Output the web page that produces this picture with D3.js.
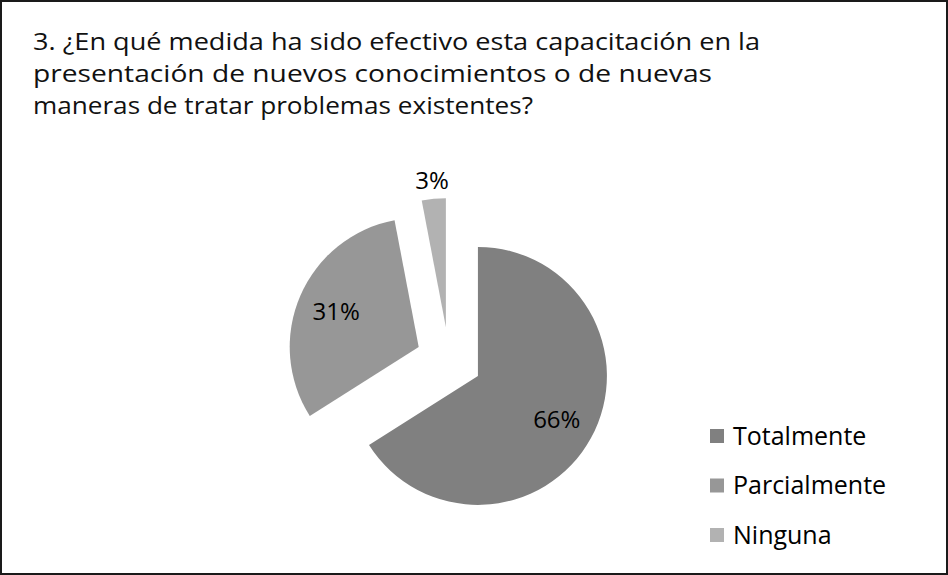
<!DOCTYPE html>
<html>
<head>
<meta charset="utf-8">
<script src="https://cdn.jsdelivr.net/npm/d3@7"></script>
<style>
  body { margin: 0; background: #fff; }
  svg text { font-family: "Open Sans", "Noto Sans", sans-serif; }
</style>
</head>
<body>
<svg id="chart" width="948" height="575"></svg>
<script>
const titleLines = [
    "3. ¿En qué medida ha sido efectivo esta capacitación en la",
    "presentación de nuevos conocimientos o de nuevas",
    "maneras de tratar problemas existentes?"
];
const titleWidths = [727, 679, 500];
const categories = ["Totalmente", "Parcialmente", "Ninguna"];
const values = [66, 31, 3];
const colors = ["#808080", "#979797", "#b2b2b2"];

const svg = d3.select("#chart");
const width = 948, height = 575;

svg.append("rect")
    .attr("x", 1).attr("y", 1)
    .attr("width", width - 2).attr("height", height - 2)
    .attr("fill", "#fff")
    .attr("stroke", "#1a1a1a")
    .attr("stroke-width", 2);

// title, squeezed to the condensed look of the original
svg.selectAll("text.title")
    .data(titleLines)
    .enter()
    .append("text")
    .attr("class", "title")
    .attr("x", 33)
    .attr("y", (d, i) => 50 + i * 32)
    .attr("font-size", "23px")
    .attr("fill", "#111")
    .attr("textLength", (d, i) => titleWidths[i])
    .attr("lengthAdjust", "spacingAndGlyphs")
    .text(d => d);

const cx = 449, cy = 360, radius = 129, explode = 33;

const data = categories.map((c, i) => ({ name: c, value: values[i], color: colors[i] }));

const pie = d3.pie().value(d => d.value).sort(null);
const arc = d3.arc().innerRadius(0).outerRadius(radius);
const arcs = pie(data);

const offset = d => {
    const a = (d.startAngle + d.endAngle) / 2;
    return [Math.sin(a) * explode, -Math.cos(a) * explode];
};

const g = svg.append("g").attr("transform", `translate(${cx},${cy})`);

const slice = g.selectAll("g.slice")
    .data(arcs)
    .enter()
    .append("g")
    .attr("class", "slice")
    .attr("transform", d => `translate(${offset(d)})`);

slice.append("path")
    .attr("d", arc)
    .attr("fill", d => d.data.color);

// small slices get their label outside
slice.append("text")
    .attr("transform", d => {
        const a = (d.startAngle + d.endAngle) / 2;
        const r = d.data.value < 5 ? radius + 18 : 90;
        return `translate(${Math.sin(a) * r},${-Math.cos(a) * r})`;
    })
    .attr("text-anchor", "middle")
    .attr("dy", "0.35em")
    .attr("font-size", "24px")
    .attr("fill", "#000")
    .text(d => d.data.value + "%");

const legend = svg.append("g")
    .selectAll("g")
    .data(data)
    .enter()
    .append("g")
    .attr("transform", (d, i) => `translate(710,${436 + i * 49.5})`);

legend.append("rect")
    .attr("x", 0).attr("y", -7)
    .attr("width", 14).attr("height", 14)
    .attr("fill", d => d.color);

legend.append("text")
    .attr("x", 23)
    .attr("dy", "0.35em")
    .attr("font-size", "25px")
    .attr("fill", "#000")
    .text(d => d.name);
</script>
</body>
</html>
